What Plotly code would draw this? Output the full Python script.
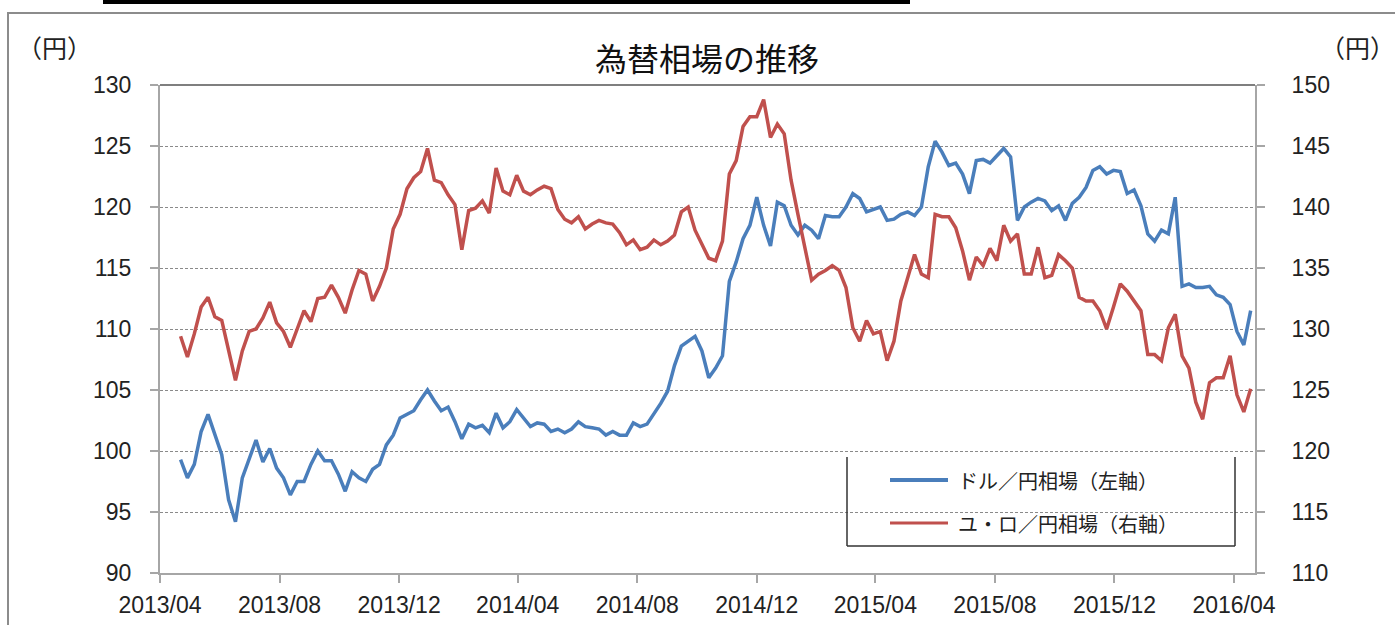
import pandas as pd
import plotly.graph_objects as go

# ---- data (weekly readings from the chart) ----
start_date = "2013-04-22"
n_weeks = 157

usd_jpy = [
    99.3, 97.8, 98.9, 101.6, 103.0, 101.3, 99.7, 96.0, 94.2, 97.8,
    99.4, 100.9, 99.1, 100.2, 98.6, 97.8, 96.4, 97.5, 97.5, 98.9,
    100.0, 99.2, 99.2, 98.1, 96.7, 98.3, 97.8, 97.5, 98.5, 98.9,
    100.5, 101.3, 102.7, 103.0, 103.3, 104.2, 105.0, 104.1, 103.3, 103.6,
    102.4, 101.0, 102.2, 101.9, 102.1, 101.5, 103.1, 101.9, 102.4, 103.4,
    102.7, 102.0, 102.3, 102.2, 101.6, 101.8, 101.5, 101.8, 102.4, 102.0,
    101.9, 101.8, 101.3, 101.6, 101.3, 101.3, 102.3, 102.0, 102.2, 103.0,
    103.9, 104.9, 107.0, 108.6, 109.0, 109.4, 108.2, 106.0, 106.8, 107.8,
    113.9, 115.5, 117.4, 118.5, 120.8, 118.5, 116.8, 120.4, 120.1, 118.5,
    117.7, 118.5, 118.1, 117.4, 119.3, 119.2, 119.2, 120.0, 121.1, 120.7,
    119.6, 119.8, 120.0, 118.9, 119.0, 119.4, 119.6, 119.3, 120.0, 123.3,
    125.4, 124.5, 123.4, 123.6, 122.7, 121.1, 123.8, 123.9, 123.6, 124.2,
    124.8, 124.1, 118.9, 120.0, 120.4, 120.7, 120.5, 119.7, 120.1, 118.9,
    120.3, 120.8, 121.6, 123.0, 123.3, 122.7, 123.0, 122.9, 121.1, 121.4,
    120.1, 117.8, 117.2, 118.1, 117.8, 120.8, 113.5, 113.7, 113.4, 113.4,
    113.5, 112.8, 112.6, 112.0, 109.8, 108.7, 111.5,
]

eur_jpy = [
    129.4, 127.7, 129.6, 131.8, 132.6, 131.0, 130.7, 128.2, 125.8, 128.2,
    129.8, 130.0, 130.9, 132.2, 130.5, 129.8, 128.5, 130.0, 131.5, 130.6,
    132.5, 132.6, 133.6, 132.6, 131.3, 133.2, 134.8, 134.5, 132.3, 133.5,
    135.0, 138.2, 139.4, 141.5, 142.4, 142.9, 144.8, 142.2, 142.0, 141.0,
    140.2, 136.5, 139.7, 139.9, 140.5, 139.5, 143.2, 141.3, 141.0, 142.6,
    141.3, 141.0, 141.4, 141.7, 141.5, 139.8, 139.0, 138.7, 139.2, 138.2,
    138.6, 138.9, 138.7, 138.6, 137.9, 136.9, 137.3, 136.5, 136.7, 137.3,
    136.9, 137.2, 137.7, 139.6, 140.0, 138.1, 137.0, 135.8, 135.6, 137.2,
    142.7, 143.8, 146.6, 147.4, 147.4, 148.8, 145.7, 146.8, 146.0, 142.2,
    139.4, 136.7, 134.0, 134.5, 134.8, 135.2, 134.8, 133.4, 130.1, 129.0,
    130.7, 129.6, 129.8, 127.4, 129.0, 132.3, 134.2, 136.1, 134.5, 134.2,
    139.4, 139.2, 139.2, 138.3, 136.4, 134.0, 135.9, 135.2, 136.6, 135.6,
    138.5, 137.2, 137.8, 134.5, 134.5, 136.7, 134.2, 134.4, 136.1, 135.6,
    135.0, 132.6, 132.3, 132.3, 131.5, 130.0, 131.8, 133.7, 133.1, 132.3,
    131.5, 127.9, 127.9, 127.4, 130.1, 131.2, 127.8, 126.8, 124.0, 122.6,
    125.6, 126.0, 126.0, 127.8, 124.6, 123.2, 125.1,
]

x_tick_vals = ["2013-04-01", "2013-08-01", "2013-12-01", "2014-04-01", "2014-08-01",
               "2014-12-01", "2015-04-01", "2015-08-01", "2015-12-01", "2016-04-01"]
x_tick_text = ["2013/04", "2013/08", "2013/12", "2014/04", "2014/08",
               "2014/12", "2015/04", "2015/08", "2015/12", "2016/04"]

title_text = "為替相場の推移"
unit_text = "（円）"
usd_name = "ドル／円相場（左軸）"
eur_name = "ユ・ロ／円相場（右軸）"

dates = pd.date_range(start_date, periods=n_weeks, freq="7D")

BLUE = "#4a7ebb"
RED = "#c0504d"

W, H = 1395, 625
L, R, T, B = 160, 140, 85, 52
PW, PH = W - L - R, H - T - B


def px(x):
    return (x - L) / PW


def py(y):
    return (H - B - y) / PH


fig = go.Figure()
fig.add_trace(go.Scatter(x=dates, y=usd_jpy, mode="lines", name=usd_name,
                         line=dict(color=BLUE, width=3.5), yaxis="y"))
fig.add_trace(go.Scatter(x=dates, y=eur_jpy, mode="lines", name=eur_name,
                         line=dict(color=RED, width=3.5), yaxis="y2"))

tick_font = dict(family="Liberation Sans Narrow, Liberation Sans, sans-serif", size=23, color="#222")
axis_col = "#a6a6a6"

fig.update_layout(
    template="none",
    width=W, height=H,
    margin=dict(l=L, r=R, t=T, b=B, autoexpand=False),
    paper_bgcolor="white", plot_bgcolor="white",
    showlegend=False,
    xaxis=dict(type="date", range=["2013-04-01", "2016-04-22 10:00"],
               tickvals=x_tick_vals, ticktext=x_tick_text, automargin=False,
               showgrid=False, zeroline=False,
               showline=True, linecolor=axis_col, linewidth=2,
               ticks="outside", ticklen=8, tickcolor=axis_col, tickwidth=1.5,
               tickfont=tick_font, ticklabelstandoff=2),
    yaxis=dict(range=[90, 130], dtick=5, tick0=90, automargin=False,
               showgrid=True, gridcolor="#8a8a8a", gridwidth=1, griddash="3px,2px",
               zeroline=False, showline=True, linecolor=axis_col, linewidth=2,
               ticks="outside", ticklen=8, tickcolor=axis_col, tickwidth=1.5,
               tickfont=tick_font, ticklabelstandoff=14),
    yaxis2=dict(range=[110, 150], dtick=5, tick0=110, overlaying="y", side="right",
                automargin=False,
                showgrid=False, zeroline=False, showline=True, linecolor=axis_col, linewidth=2,
                ticks="outside", ticklen=8, tickcolor=axis_col, tickwidth=1.5,
                tickfont=tick_font, ticklabelstandoff=22),
)

shapes = []
# outer frame
shapes.append(dict(type="rect", xref="paper", yref="paper",
                   x0=px(8), x1=px(1402), y0=py(640), y1=py(13),
                   line=dict(color="#8c8c8c", width=2), fillcolor="rgba(0,0,0,0)", layer="below"))
# black bar at top
shapes.append(dict(type="rect", xref="paper", yref="paper",
                   x0=px(103), x1=px(910), y0=py(4), y1=py(-2),
                   line=dict(width=0), fillcolor="black"))
# top border of plot area
shapes.append(dict(type="line", xref="paper", yref="paper", x0=0, x1=1, y0=1, y1=1,
                   line=dict(color="#555555", width=1.5)))
# legend box (left, right, bottom)
lb = dict(color="#333333", width=1.5)
shapes.append(dict(type="line", xref="paper", yref="paper", x0=px(847), x1=px(847), y0=py(457), y1=py(546), line=lb))
shapes.append(dict(type="line", xref="paper", yref="paper", x0=px(1235), x1=px(1235), y0=py(457), y1=py(546), line=lb))
shapes.append(dict(type="line", xref="paper", yref="paper", x0=px(847), x1=px(1235), y0=py(546), y1=py(546), line=lb))
# legend samples
shapes.append(dict(type="line", xref="paper", yref="paper", x0=px(890), x1=px(948), y0=py(480), y1=py(480),
                   line=dict(color=BLUE, width=4)))
shapes.append(dict(type="line", xref="paper", yref="paper", x0=px(890), x1=px(948), y0=py(523), y1=py(523),
                   line=dict(color=RED, width=3)))
fig.update_layout(shapes=shapes)

cjk = "Noto Sans CJK JP, sans-serif"
ann = []
ann.append(dict(text=title_text, xref="paper", yref="paper", x=px(707), y=py(57),
                showarrow=False, font=dict(family=cjk, size=32, color="#111"),
                xanchor="center", yanchor="middle"))
ann.append(dict(text=unit_text, xref="paper", yref="paper", x=px(54), y=py(47),
                showarrow=False, font=dict(family=cjk, size=25, color="#222"),
                xanchor="center", yanchor="middle"))
ann.append(dict(text=unit_text, xref="paper", yref="paper", x=px(1357), y=py(47),
                showarrow=False, font=dict(family=cjk, size=25, color="#222"),
                xanchor="center", yanchor="middle"))
ann.append(dict(text=usd_name, xref="paper", yref="paper", x=px(956), y=py(480),
                showarrow=False, font=dict(family=cjk, size=20, color="#222"),
                xanchor="left", yanchor="middle"))
ann.append(dict(text=eur_name, xref="paper", yref="paper", x=px(956), y=py(523),
                showarrow=False, font=dict(family=cjk, size=20, color="#222"),
                xanchor="left", yanchor="middle"))
fig.update_layout(annotations=ann)

fig.write_html("out.html", config={"displayModeBar": False},
               post_script="document.body.style.margin='0px';")
